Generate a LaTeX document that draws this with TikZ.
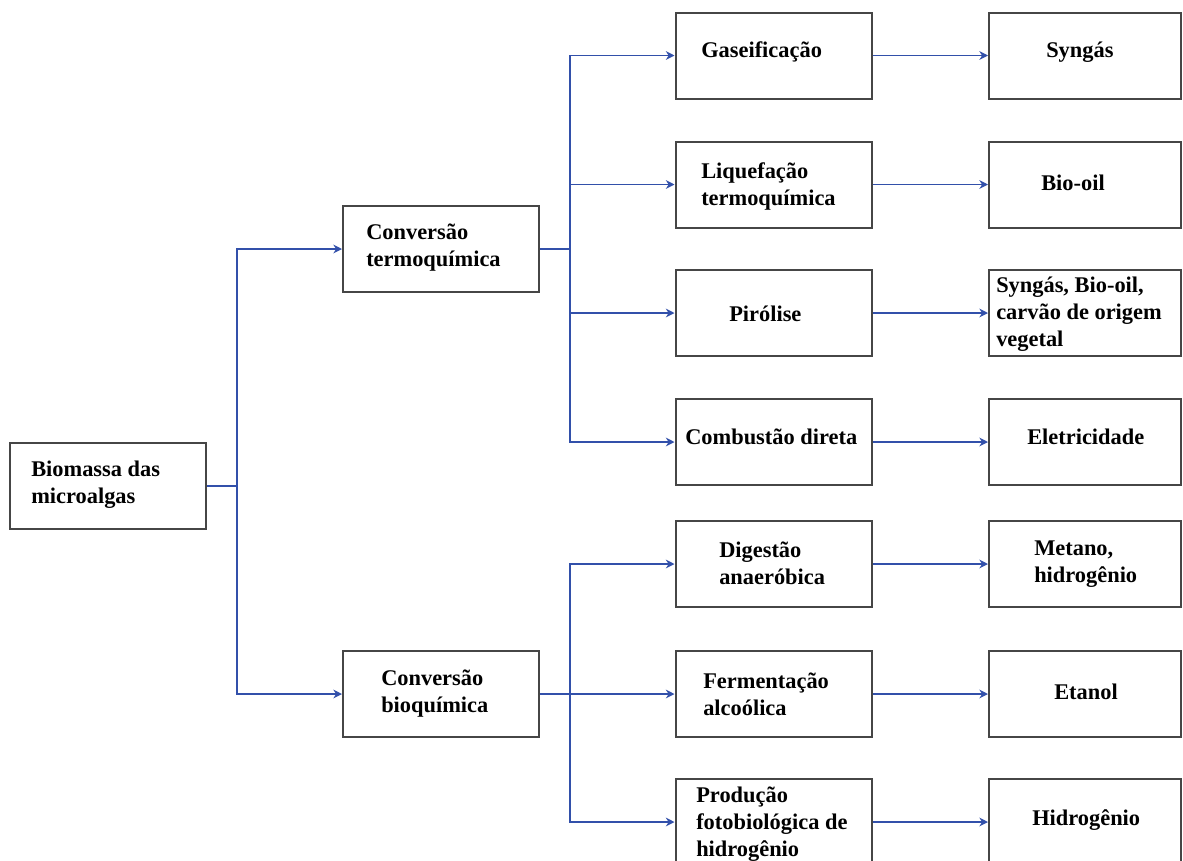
\documentclass[tikz,border=0pt]{standalone}
\usepackage{fontspec}
\setmainfont{Liberation Serif}
\usetikzlibrary{arrows.meta}
\definecolor{lineblue}{RGB}{50,80,170}
\definecolor{boxgray}{RGB}{70,70,70}
\tikzset{
  box/.style={draw=boxgray, line width=1.5pt, fill=white, rectangle, inner sep=0pt,
    minimum width=147pt, minimum height=64.5pt},
  lbl/.style={anchor=west, align=left, inner sep=0pt, yshift=-1.5pt,
    font=\fontsize{16.8}{20.25}\selectfont\bfseries},
  conn/.style={draw=lineblue, line width=1pt},
  arr/.style={conn, -{Stealth[length=6.5pt,width=6.5pt]}}
}
\begin{document}
\begin{tikzpicture}[x=0.75pt,y=-0.75pt]
\useasboundingbox (0,0) rectangle (1183,861);
\clip (0,0) rectangle (1183,861);
% boxes
\node[box] (b0) at (108,486) {};
\node[box] (ct) at (441,249) {};
\node[box] (cb) at (441,694) {};
\node[box] (g) at (773.5,55.5) {};
\node[box] (l) at (773.5,184.5) {};
\node[box] (p) at (773.5,313) {};
\node[box] (c) at (773.5,442) {};
\node[box] (d) at (773.5,564) {};
\node[box] (f) at (773.5,694) {};
\node[box] (h) at (773.5,822) {};
\node[box, minimum width=144pt] (s1) at (1085,55.5) {};
\node[box, minimum width=144pt] (s2) at (1085,184.5) {};
\node[box, minimum width=144pt] (s3) at (1085,313) {};
\node[box, minimum width=144pt] (s4) at (1085,442) {};
\node[box, minimum width=144pt] (s5) at (1085,564) {};
\node[box, minimum width=144pt] (s6) at (1085,694) {};
\node[box, minimum width=144pt] (s7) at (1085,822) {};
% labels
\node[lbl] (t0) at (31,483) {Biomassa das\\microalgas};
\node[lbl] (tct) at (366,246) {Conversão\\termoquímica};
\node[lbl] (tcb) at (381,692) {Conversão\\bioquímica};
\node[lbl] (tg) at (701,50) {Gaseificação};
\node[lbl] (tl) at (701,184) {Liquefação\\termoquímica};
\node[lbl] (tp) at (729,312) {Pirólise};
\node[lbl] (tc) at (685,435) {Combustão direta};
\node[lbl] (td) at (719,561) {Digestão\\anaeróbica};
\node[lbl] (tf) at (703,692) {Fermentação\\alcoólica};
\node[lbl] (th) at (696,822) {Produção\\fotobiológica de\\hidrogênio};
\node[lbl] (ts1) at (1046,50) {Syngás};
\node[lbl] (ts2) at (1041,181) {Bio-oil};
\node[lbl] (ts3) at (996,312) {Syngás, Bio-oil,\\carvão de origem\\vegetal};
\node[lbl] (ts4) at (1027,435) {Eletricidade};
\node[lbl] (ts5) at (1034,562) {Metano,\\hidrogênio};
\node[lbl] (ts6) at (1054,690) {Etanol};
\node[lbl] (ts7) at (1032,818) {Hidrogênio};
% junctions
\coordinate (j0) at (237,486);
\coordinate (j1) at (570,249);
\coordinate (j2) at (570,694);
% connectors
\draw[conn] (b0.east) -- (j0);
\draw[arr] (j0) |- (ct.west);
\draw[arr] (j0) |- (cb.west);
\draw[conn] (ct.east) -- (j1);
\draw[arr] (j1) |- (g.west);
\draw[arr] (j1) |- (l.west);
\draw[arr] (j1) |- (p.west);
\draw[arr] (j1) |- (c.west);
\draw[conn] (cb.east) -- (j2);
\draw[arr] (j2) |- (d.west);
\draw[arr] (j2) |- (f.west);
\draw[arr] (j2) |- (h.west);
\draw[arr] (g.east) -- (s1.west);
\draw[arr] (l.east) -- (s2.west);
\draw[arr] (p.east) -- (s3.west);
\draw[arr] (c.east) -- (s4.west);
\draw[arr] (d.east) -- (s5.west);
\draw[arr] (f.east) -- (s6.west);
\draw[arr] (h.east) -- (s7.west);
\end{tikzpicture}
\end{document}
